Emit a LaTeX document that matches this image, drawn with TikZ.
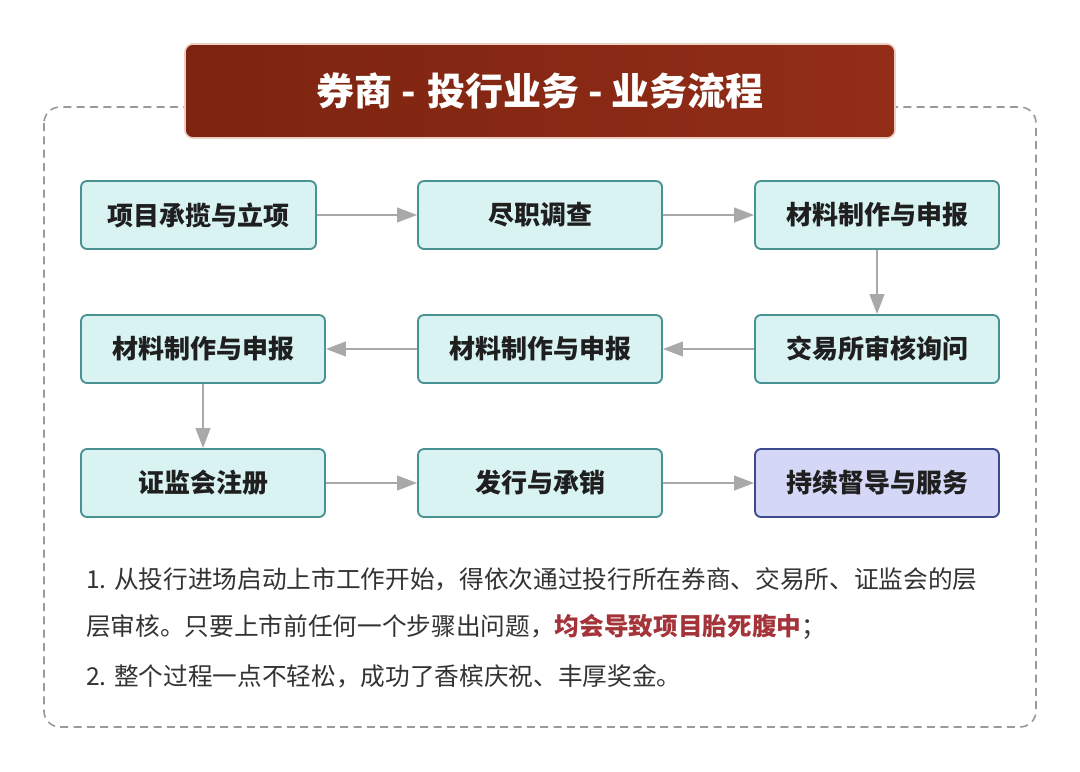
\documentclass[tikz,border=0pt]{standalone}
\usepackage{fontspec}
\setmainfont{Noto Sans CJK SC}
\usetikzlibrary{arrows.meta}
\definecolor{boxfill}{HTML}{D9F3F3}
\definecolor{boxdraw}{HTML}{4A9191}
\definecolor{lastfill}{HTML}{D4D7F6}
\definecolor{lastdraw}{HTML}{3D4A8C}
\definecolor{arrowgray}{HTML}{A9A9A9}
\definecolor{titleL}{HTML}{7C2410}
\definecolor{titleR}{HTML}{922D18}
\definecolor{titleedge}{HTML}{EBCFC2}
\definecolor{framegray}{HTML}{9A9A9A}
\definecolor{bodytext}{HTML}{333333}
\definecolor{hilite}{HTML}{A4333A}
\tikzset{
  stepbox/.style={draw=boxdraw, line width=1.4pt, fill=boxfill, rounded corners=4.5pt,
    minimum height=51pt, inner sep=0pt, font=\fontsize{19.5pt}{22pt}\selectfont\bfseries, text=black!88},
  wbox/.style={stepbox, minimum width=183pt},
  lastbox/.style={wbox, draw=lastdraw, fill=lastfill},
  flow/.style={draw=arrowgray, line width=1.6pt, -{Triangle[length=15pt,width=11pt]}},
  bodyline/.style={anchor=west, inner sep=0pt, text=bodytext, font=\fontsize{18.5pt}{22pt}\selectfont}
}
\begin{document}
\begin{tikzpicture}[x=0.75pt, y=-0.75pt]
\useasboundingbox (0,0) rectangle (1080,771);
\fill[white] (0,0) rectangle (1080,771);
% frame
\draw[framegray, line width=1.2pt, dash pattern=on 6pt off 4pt, rounded corners=12pt] (44,107) rectangle (1036,727);
% title
\node[draw=titleedge, line width=1.2pt, left color=titleL, right color=titleR, rounded corners=6pt,
  minimum width=532.5pt, minimum height=70.5pt, inner sep=0pt, text=white,
  font=\fontsize{28.5pt}{30pt}\selectfont\bfseries] (title) at (540,91) {券商 -\hspace{0.3em}投行业务 - 业务流程};
% boxes
\node[stepbox, minimum width=176.25pt] (a) at (198.5,215) {项目承揽与立项};
\node[wbox] (b) at (540,215) {尽职调查};
\node[wbox] (c) at (877,215) {材料制作与申报};
\node[wbox] (d) at (877,349) {交易所审核询问};
\node[wbox] (e) at (540,349) {材料制作与申报};
\node[wbox] (f) at (203,349) {材料制作与申报};
\node[wbox] (g) at (203,483) {证监会注册};
\node[wbox] (h) at (540,483) {发行与承销};
\node[lastbox] (i) at (877,483) {持续督导与服务};
% connectors
\draw[flow] (a) -- (b);
\draw[flow] (b) -- (c);
\draw[flow] (c) -- (d);
\draw[flow] (d) -- (e);
\draw[flow] (e) -- (f);
\draw[flow] (f) -- (g);
\draw[flow] (g) -- (h);
\draw[flow] (h) -- (i);
% text
\node[bodyline] (t1) at (86,579) {1. 从投行进场启动上市工作开始，得依次通过投行所在券商、交易所、证监会的层};
\node[bodyline] (t2) at (86,627) {层审核。只要上市前任何一个步骤出问题，\textcolor{hilite}{\bfseries 均会导致项目胎死腹中}；};
\node[bodyline] (t3) at (86,676) {2. 整个过程一点不轻松，成功了香槟庆祝、丰厚奖金。};
\end{tikzpicture}
\end{document}
